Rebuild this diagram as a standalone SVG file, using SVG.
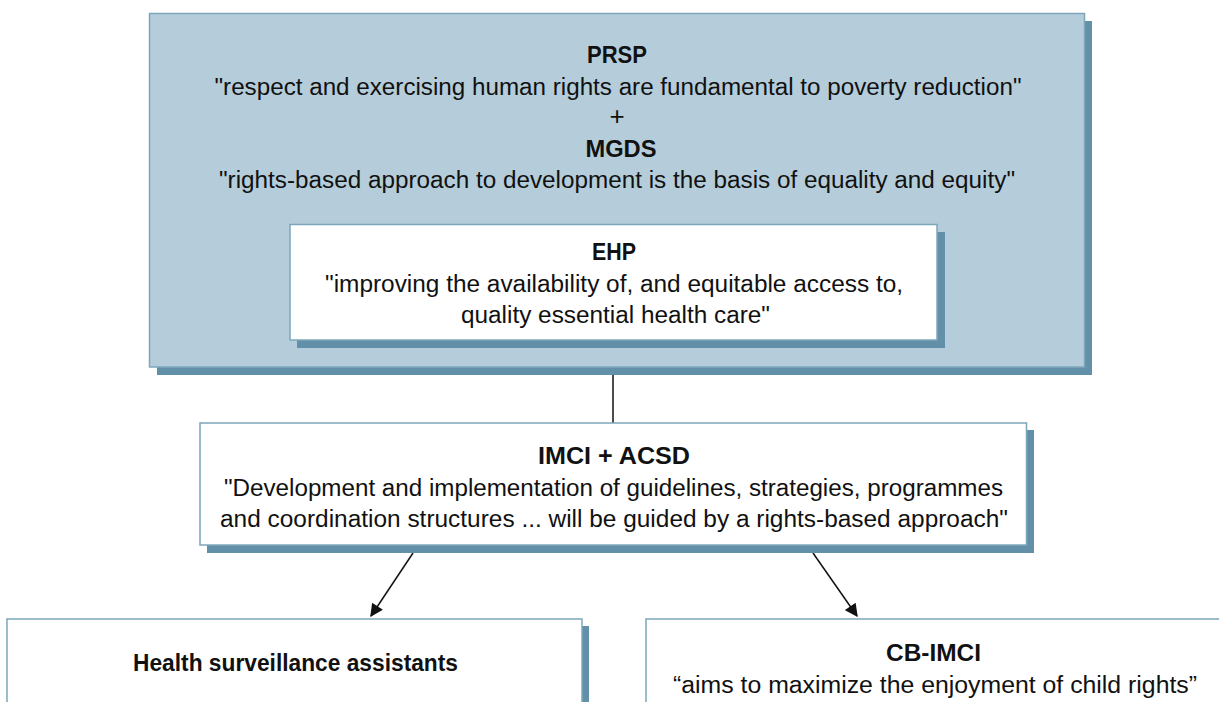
<svg xmlns="http://www.w3.org/2000/svg" width="1219" height="702" viewBox="0 0 1219 702">
<style>
.shadow{fill:#6190a8}
.box{stroke:#7ea6bb;stroke-width:1.5}
.outer{fill:#b5cdda}
.inner{fill:#ffffff}
text{font-family:"Liberation Sans",Arial,sans-serif;font-size:23.5px;fill:#111;text-anchor:middle}
.b{font-weight:bold}
.conn{stroke:#111;stroke-width:1.5;fill:none}
</style>
<defs>
<marker id="arr" viewBox="0 0 10 10" refX="9" refY="5" markerWidth="15" markerHeight="13" markerUnits="userSpaceOnUse" orient="auto">
<path d="M0,0 L10,5 L0,10 Z" fill="#111"/>
</marker>
</defs>
<g id="connectors">
<line class="conn" x1="613" y1="375" x2="613" y2="423"/>
<line class="conn" x1="413" y1="553" x2="371" y2="616" marker-end="url(#arr)"/>
<line class="conn" x1="813" y1="553" x2="857" y2="616" marker-end="url(#arr)"/>
</g>
<g id="prsp-mgds">
<rect class="shadow" x="157" y="21" width="935" height="354"/>
<rect class="box outer" x="149.5" y="13.5" width="935" height="353.5"/>
<text class="b" x="617" y="63" textLength="60" lengthAdjust="spacingAndGlyphs">PRSP</text>
<text x="618" y="95" textLength="807" lengthAdjust="spacingAndGlyphs">"respect and exercising human rights are fundamental to poverty reduction"</text>
<text x="617" y="125" style="font-size:26px">+</text>
<text class="b" x="621" y="157" textLength="71" lengthAdjust="spacingAndGlyphs">MGDS</text>
<text x="617" y="188" textLength="796" lengthAdjust="spacingAndGlyphs">"rights-based approach to development is the basis of equality and equity"</text>
</g>
<g id="ehp">
<rect class="shadow" x="297" y="232" width="648" height="116"/>
<rect class="box inner" x="290" y="224.5" width="647" height="115.5"/>
<text class="b" x="614" y="260" textLength="44" lengthAdjust="spacingAndGlyphs">EHP</text>
<text x="614" y="292" textLength="578" lengthAdjust="spacingAndGlyphs">"improving the availability of, and equitable access to,</text>
<text x="615.5" y="323" textLength="309" lengthAdjust="spacingAndGlyphs">quality essential health care"</text>
</g>
<g id="imci-acsd">
<rect class="shadow" x="207" y="430" width="827" height="123"/>
<rect class="box inner" x="200" y="423" width="826.5" height="122"/>
<text class="b" x="614" y="464" textLength="152" lengthAdjust="spacingAndGlyphs">IMCI + ACSD</text>
<text x="613.5" y="496" textLength="779" lengthAdjust="spacingAndGlyphs">"Development and implementation of guidelines, strategies, programmes</text>
<text x="614" y="527" textLength="788" lengthAdjust="spacingAndGlyphs">and coordination structures ... will be guided by a rights-based approach"</text>
</g>
<g id="hsa">
<rect class="shadow" x="14" y="626" width="575" height="90"/>
<rect class="box inner" x="7" y="619" width="575" height="95"/>
<text class="b" x="295.5" y="671" textLength="325" lengthAdjust="spacingAndGlyphs">Health surveillance assistants</text>
</g>
<g id="cb-imci">
<rect class="box inner" x="646" y="619" width="590" height="95"/>
<text class="b" x="933.5" y="661" textLength="95" lengthAdjust="spacingAndGlyphs">CB-IMCI</text>
<text x="935" y="693" textLength="524" lengthAdjust="spacingAndGlyphs">“aims to maximize the enjoyment of child rights”</text>
</g>
</svg>
